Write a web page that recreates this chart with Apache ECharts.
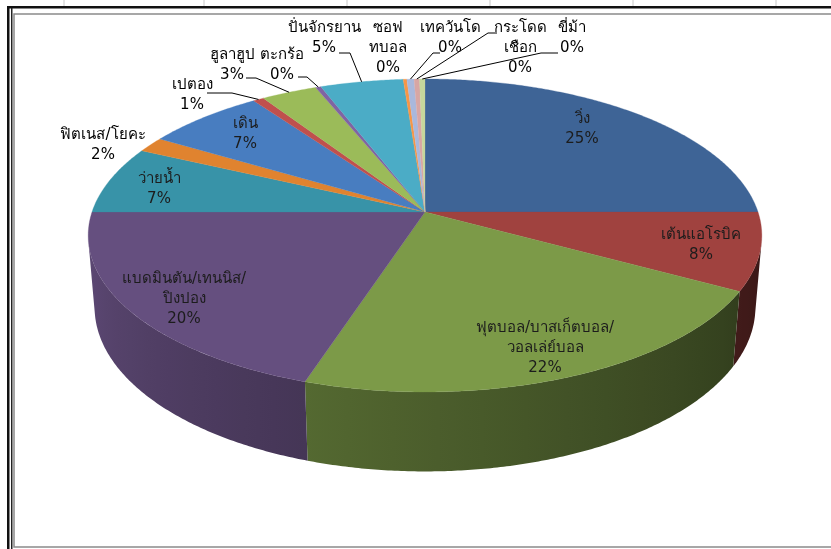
<!DOCTYPE html>
<html>
<head>
<meta charset="utf-8">
<script src="https://cdn.jsdelivr.net/npm/echarts@6/dist/echarts.min.js"></script>
<style>
html,body{margin:0;padding:0;background:#fff;}
#chart{width:831px;height:549px;}
</style>
</head>
<body>
<div id="chart"></div>
<script>
// Sports categories and their shares (percent of respondents)
const categories = ['วิ่ง','เต้นแอโรบิค','ฟุตบอล/บาสเก็ตบอล/วอลเล่ย์บอล','แบดมินตัน/เทนนิส/ปิงปอง','ว่ายน้ำ','ฟิตเนส/โยคะ','เดิน','เปตอง','ฮูลาฮูป','ตะกร้อ','ปั่นจักรยาน','ซอฟทบอล','เทควันโด','กระโดดเชือก','ขี่ม้า'];
const values = [25, 8, 22, 20, 7.0, 1.6, 6.6, 0.6, 3.1, 0.3, 4.6, 0.2, 0.4, 0.3, 0.3];
// Label text with the line breaks used in the labels
const labelNames = ['วิ่ง','เต้นแอโรบิค','ฟุตบอล/บาสเก็ตบอล/\nวอลเล่ย์บอล','แบดมินตัน/เทนนิส/\nปิงปอง','ว่ายน้ำ','ฟิตเนส/โยคะ','เดิน','เปตอง','ฮูลาฮูป','ตะกร้อ','ปั่นจักรยาน','ซอฟ\nทบอล','เทควันโด','กระโดด\nเชือก','ขี่ม้า'];

// Styling / layout
const sliceColors = ['#3E6496','#A0423F','#7C9A48','#654F7F','#3893A8','#E0832F','#487DC0','#C0504D','#9BBB59','#8064A2','#4BACC6','#F79646','#A9B8DC','#D8A6A4','#C5D79C'];
const labelAnchor = [[582,129],[701,245],[545,348],[184,299],[159,189],[103,145],[245,134],[192,95],[232,65],[282,65],[324,38],[388,48],[450,38],[520,48],[572,38]];
const leaderPts = {7:[[207,93],[232,93]], 8:[[246,78],[256,78]], 9:[[298,77],[307,77]], 10:[[339,53],[350,53]], 12:[[440,53],[433,53]], 13:[[497,33],[488,33]], 14:[[558,53],[541,53]]};
const FONT = '"DejaVu Sans", "Noto Sans", sans-serif';

// Perspective view of a flat disc (radius 1, thickness H), tilted toward the viewer
const CX = 425, CY = 212, S = 333;
const SA = 0.4594, CA = 0.888, K = 0.169, H = 0.245;
function project(X, Yw, z) {
  const depth = 1 - K * (Yw * CA + z * SA);
  const up = -Yw * SA + z * CA;
  return [CX + S * X / depth, CY - S * up / depth];
}
function rim(theta, z) {
  const t = theta * Math.PI / 180;
  return project(Math.sin(t), -Math.cos(t), z);
}
// visible part of the outer wall
const wallMin = Math.acos(-K / CA) * 180 / Math.PI;
const wallMax = 360 - wallMin;

const total = values.reduce((a, b) => a + b, 0);
const startAngle = [];
let acc = 0;
values.forEach(v => { startAngle.push(acc / total * 360); acc += v; });

function shade(hex, f) {
  const n = parseInt(hex.slice(1), 16);
  const r = Math.min(255, Math.round(((n >> 16) & 255) * f));
  const g = Math.min(255, Math.round(((n >> 8) & 255) * f));
  const b = Math.min(255, Math.round((n & 255) * f));
  return 'rgb(' + r + ',' + g + ',' + b + ')';
}
// wall brightness: dark on the right, lighter toward the left
function wallFactor(theta) {
  const u = (theta - wallMin) / (wallMax - wallMin);
  return 0.36 + 0.56 * Math.pow(u, 1.15);
}

function renderWall(params, api) {
  const i = params.dataIndex;
  const a0 = startAngle[i], a1 = a0 + api.value(0) / total * 360;
  const lo = Math.max(a0, wallMin), hi = Math.min(a1, wallMax);
  if (hi <= lo) return { type: 'group', children: [] };
  const steps = Math.max(2, Math.ceil((hi - lo) / 0.5));
  const top = [], bottom = [];
  for (let s = 0; s <= steps; s++) {
    const t = lo + (hi - lo) * s / steps;
    top.push(rim(t, 0));
    bottom.push(rim(t, -H));
  }
  const pts = top.concat(bottom.reverse());
  const xs = pts.map(p => p[0]);
  const xMin = Math.min.apply(null, xs), xMax = Math.max.apply(null, xs);
  // horizontal gradient following the angle along the wall
  const stops = [];
  const n = 12;
  for (let s = 0; s <= n; s++) {
    const t = lo + (hi - lo) * s / n;
    const x = rim(t, 0)[0];
    stops.push({ offset: Math.min(1, Math.max(0, (x - xMin) / Math.max(1, xMax - xMin))), color: shade(sliceColors[i], wallFactor(t)) });
  }
  stops.sort((p, q) => p.offset - q.offset);
  return {
    type: 'polygon',
    shape: { points: pts },
    style: {
      fill: new echarts.graphic.LinearGradient(xMin, 0, xMax, 0, stops, true),
      stroke: null
    }
  };
}

function renderTop(params, api) {
  const i = params.dataIndex;
  const a0 = startAngle[i], a1 = a0 + api.value(0) / total * 360;
  const pts = [[CX, CY]];
  const steps = Math.max(2, Math.ceil((a1 - a0) / 0.5));
  for (let s = 0; s <= steps; s++) pts.push(rim(a0 + (a1 - a0) * s / steps, 0));
  return {
    type: 'polygon',
    shape: { points: pts },
    style: { fill: sliceColors[i], stroke: sliceColors[i], lineWidth: 0.3 }
  };
}

function renderLabel(params, api) {
  const i = params.dataIndex;
  const v = api.value(0);
  const pct = Math.round(v / total * 100) + '%';
  const children = [];
  const inside = i <= 6 && i !== 5;
  children.push({
    type: 'text',
    x: labelAnchor[i][0], y: labelAnchor[i][1],
    style: {
      text: labelNames[i] + '\n' + pct,
      fill: inside ? '#1c1c1c' : '#000',
      font: '15px ' + FONT,
      align: 'center', verticalAlign: 'middle',
      lineHeight: 20
    }
  });
  if (leaderPts[i]) {
    const a0 = startAngle[i], a1 = a0 + v / total * 360;
    const end = rim((a0 + a1) / 2, 0);
    children.push({
      type: 'polyline',
      shape: { points: [leaderPts[i][0], leaderPts[i][1], end] },
      style: { stroke: '#000', lineWidth: 1, fill: null }
    });
  }
  return { type: 'group', children };
}

const chart = echarts.init(document.getElementById('chart'), null, { renderer: 'canvas' });
const seriesData = values.map((v, i) => ({ name: categories[i], value: v }));

// sheet frame around the chart
const frame = [
  { type: 'rect', shape: { x: 8, y: 6, width: 823, height: 2.5 }, style: { fill: '#111' } },
  { type: 'rect', shape: { x: 7, y: 6, width: 2.5, height: 543 }, style: { fill: '#111' } },
  { type: 'rect', shape: { x: 11, y: 8, width: 1.5, height: 541 }, style: { fill: '#222' } },
  { type: 'rect', shape: { x: 14, y: 14, width: 830, height: 533 }, style: { fill: null, stroke: '#8a8a8a', lineWidth: 1.5 } }
];
[64, 204, 347, 490, 633, 776].forEach(x => frame.push({ type: 'line', shape: { x1: x, y1: 0, x2: x, y2: 6 }, style: { stroke: '#c8c8c8', lineWidth: 1 } }));

chart.setOption({
  backgroundColor: '#fff',
  animation: false,
  graphic: frame,
  series: [
    { type: 'custom', coordinateSystem: 'none', silent: true, z: 1, data: seriesData, renderItem: renderWall },
    { type: 'custom', coordinateSystem: 'none', silent: true, z: 2, data: seriesData, renderItem: renderTop },
    { type: 'custom', coordinateSystem: 'none', silent: true, z: 3, data: seriesData, renderItem: renderLabel }
  ]
});
</script>
</body>
</html>
